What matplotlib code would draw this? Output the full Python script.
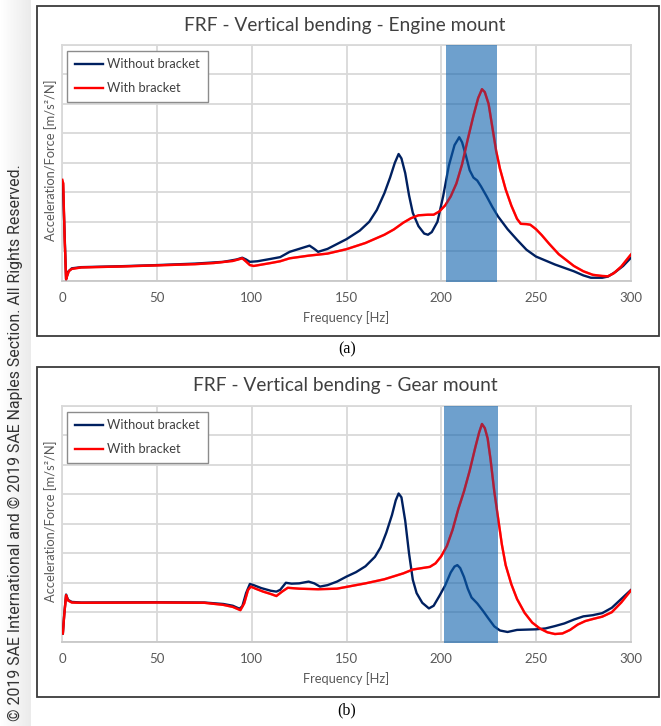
import matplotlib

matplotlib.use("Agg")
import matplotlib.pyplot as plt
import numpy as np
from matplotlib.patches import Rectangle

# Engine mount (panel a)
engine_freq_without = [0.3, 1, 2, 3, 5, 10, 30, 50, 70, 85, 92, 95, 97, 99, 103, 110, 115, 120,
                       126, 130.5, 133, 135, 140, 150, 157, 162, 166, 170, 173, 175.5, 177.5, 179,
                       181, 183, 185, 188, 191, 193, 195, 198, 201, 204, 207, 209.5, 211, 213, 215,
                       217, 219, 221, 224, 227, 230, 235, 240, 245, 250, 260, 270, 275, 279, 285,
                       288, 292, 296, 300]
engine_without = [3.3, 2.0, 0.05, 0.3, 0.42, 0.46, 0.49, 0.53, 0.58, 0.64, 0.72, 0.78, 0.72, 0.64,
                  0.66, 0.74, 0.80, 0.98, 1.1, 1.19, 1.08, 0.98, 1.08, 1.41, 1.7, 2.0, 2.4, 2.97,
                  3.5, 4.0, 4.30, 4.15, 3.65, 2.9, 2.3, 1.85, 1.6, 1.56, 1.65, 2.0, 2.86, 3.9, 4.6,
                  4.87, 4.7, 4.25, 3.75, 3.5, 3.4, 3.2, 2.86, 2.5, 2.18, 1.75, 1.39, 1.05, 0.82,
                  0.55, 0.32, 0.18, 0.1, 0.1, 0.14, 0.3, 0.5, 0.77]

engine_freq_with = [0, 0.5, 1.2, 2, 2.5, 3.5, 5, 10, 30, 50, 70, 80, 90, 95, 97, 99, 101, 110, 115,
                    120, 130, 140, 150, 160, 170, 175, 180, 184, 188, 193, 196, 199, 202, 205, 208,
                    211, 214, 217, 219.5, 221.5, 223, 225, 227, 229, 231, 234, 237, 240, 242, 245,
                    247, 250, 253, 257, 262, 270, 275, 280, 285, 288, 291, 295, 300]
engine_with = [3.42, 3.3, 1.5, 0.05, 0.15, 0.33, 0.40, 0.45, 0.48, 0.52, 0.56, 0.60, 0.67, 0.76,
               0.65, 0.53, 0.50, 0.60, 0.66, 0.76, 0.85, 0.92, 1.07, 1.28, 1.56, 1.74, 1.97, 2.12,
               2.22, 2.24, 2.24, 2.35, 2.55, 2.86, 3.3, 3.95, 4.8, 5.6, 6.2, 6.5, 6.4, 6.0, 5.2,
               4.4, 3.8, 3.1, 2.55, 2.1, 1.93, 1.92, 1.90, 1.75, 1.55, 1.25, 0.9, 0.5, 0.32, 0.2,
               0.16, 0.15, 0.25, 0.48, 0.88]

# Gear mount (panel b)
gear_freq_without = [0.3, 1, 2, 3, 5, 10, 50, 75, 85, 90, 93.5, 95, 97, 99, 101, 105, 110, 113, 115,
                     118, 121, 125, 130, 133, 136, 140, 145, 150, 155, 160, 165, 168, 171, 174, 176,
                     177.5, 179, 181, 183, 185, 187, 190, 193.5, 196, 199, 202, 205, 207, 208.5,
                     210, 212, 214, 216, 219, 222, 225, 228, 231, 235, 240, 250, 255, 260, 265,
                     270, 275, 280, 285, 290, 295, 300]
gear_without = [0.28, 0.9, 1.6, 1.42, 1.35, 1.33, 1.34, 1.33, 1.28, 1.22, 1.12, 1.2, 1.65, 1.96,
                1.92, 1.82, 1.73, 1.70, 1.76, 2.0, 1.97, 1.98, 2.04, 1.98, 1.87, 1.92, 2.04, 2.21,
                2.36, 2.56, 2.88, 3.2, 3.7, 4.3, 4.8, 5.03, 4.9, 4.1, 3.0, 2.1, 1.65, 1.32, 1.13,
                1.22, 1.55, 1.9, 2.35, 2.55, 2.60, 2.5, 2.2, 1.8, 1.5, 1.3, 1.05, 0.78, 0.52, 0.38,
                0.33, 0.40, 0.42, 0.45, 0.53, 0.62, 0.75, 0.86, 0.90, 0.97, 1.15, 1.45, 1.75]

gear_freq_with = [0.3, 1, 2, 3, 5, 10, 50, 75, 85, 90, 94, 96, 98, 99.5, 102, 106, 110, 113, 116,
                  119, 125, 135, 145, 150, 160, 170, 180, 185, 190, 194, 197, 200, 203, 206, 209,
                  212, 215, 218, 220, 221.5, 223, 224.5, 226, 228, 230, 232, 234, 237, 240, 244,
                  248, 252, 256, 260, 264, 268, 272, 276, 280, 285, 290, 295, 300]
gear_with = [0.28, 0.9, 1.58, 1.40, 1.33, 1.32, 1.33, 1.32, 1.25, 1.18, 1.07, 1.3, 1.75, 1.87, 1.8,
             1.70, 1.62, 1.55, 1.70, 1.83, 1.80, 1.78, 1.80, 1.86, 1.98, 2.12, 2.32, 2.45, 2.5,
             2.54, 2.66, 2.9, 3.25, 3.8, 4.5, 5.1, 5.8, 6.6, 7.1, 7.39, 7.25, 6.9, 6.2, 5.1, 4.2,
             3.3, 2.6, 1.95, 1.45, 0.98, 0.65, 0.45, 0.32, 0.26, 0.28, 0.40, 0.58, 0.70, 0.77,
             0.85, 1.0, 1.33, 1.73]

titles = ["FRF - Vertical bending - Engine mount", "FRF - Vertical bending - Gear mount"]
captions = ["(a)", "(b)"]
bands = [(202.5, 229.5), (201.5, 230.2)]
x_ticks = [0, 50, 100, 150, 200, 250, 300]

NAVY = "#002060"
RED = "#ff0000"
GRID = "#d9d9d9"
TEXT = "#595959"
FONT = "Lato"

W, H = 661, 726
fig = plt.figure(figsize=(W / 100, H / 100), dpi=100)


def fx(px):
    return px / W


def fy(py):
    return 1 - py / H


def draw_panel(box_top, box_bottom, ax_top, ax_bottom, title, caption, band,
               freq_without, without, freq_with, with_):
    """Draw one framed Excel-style FRF panel."""
    fig.patches.append(Rectangle((fx(36.5), fy(box_bottom)), fx(659) - fx(36.5),
                                 fy(box_top) - fy(box_bottom), transform=fig.transFigure,
                                 fill=False, edgecolor="#3a3a3a", linewidth=1.3, zorder=0))
    ax = fig.add_axes([fx(62.3), fy(ax_bottom), fx(630.7) - fx(62.3), fy(ax_top) - fy(ax_bottom)])
    ax.plot(freq_without, without, color=NAVY, lw=1.7, label="Without bracket",
            solid_joinstyle="round", zorder=3)
    ax.plot(freq_with, with_, color=RED, lw=1.7, label="With bracket",
            solid_joinstyle="round", zorder=4)
    ax.axvspan(band[0], band[1], ymin=-0.005, ymax=1, color="#0d61ac", alpha=0.6,
               lw=0, zorder=5, clip_on=False)
    # red trace keeps some of its colour through the shaded band
    ax.plot(freq_with, with_, color=RED, lw=1.7, alpha=0.45, solid_joinstyle="round", zorder=6)
    ax.set_xlim(0, 300)
    ax.set_ylim(0, 8)
    ax.set_xticks(x_ticks)
    ax.set_yticks(np.arange(0, 9, 1))
    ax.set_yticklabels([])
    ax.tick_params(axis="both", length=0, pad=8, labelsize=9.5, labelcolor=TEXT)
    for lab in ax.get_xticklabels():
        lab.set_fontfamily(FONT)
    ax.grid(True, color=GRID, lw=1.3, zorder=1)
    ax.set_axisbelow(True)
    for spine in ax.spines.values():
        spine.set_color(GRID)
        spine.set_linewidth(1.3)
    ax.spines["bottom"].set_color("#c8c8c8")
    ax.set_xlabel("Frequency [Hz]", fontsize=9.3, color=TEXT, family=FONT, labelpad=5)
    ax.set_ylabel("Acceleration/Force [m/s²/N]", fontsize=9.3, color=TEXT, family=FONT)
    ax.yaxis.set_label_coords(-0.009, 0.51)
    fig.text(fx(345), fy(box_top + 19), title, ha="center", va="center", fontsize=13.8,
             color="#404040", family=FONT)
    fig.text(fx(347), fy(box_bottom + 13), caption, ha="center", va="center", fontsize=11.5,
             color="black", family="Liberation Serif")
    leg = ax.legend(loc="upper left", bbox_to_anchor=(0.0088, 0.976), borderaxespad=0,
                    fancybox=False, edgecolor="#8c8c8c", framealpha=1, handlelength=2.2,
                    handletextpad=0.3, borderpad=0.6, labelspacing=0.9,
                    prop={"family": FONT, "size": 9.3})
    leg.get_frame().set_linewidth(1.0)
    leg.set_zorder(10)
    for t in leg.get_texts():
        t.set_color("#404040")


draw_panel(6, 336, 45, 280.7, titles[0], captions[0], bands[0],
           engine_freq_without, engine_without, engine_freq_with, engine_with)
draw_panel(366.7, 697, 406, 641.7, titles[1], captions[1], bands[1],
           gear_freq_without, gear_without, gear_freq_with, gear_with)

# faint shading strip at the left edge
grad_ax = fig.add_axes([0, 0, fx(31), 1], zorder=-1)
grad_ax.imshow(np.linspace(1.0, 0.92, 64)[None, :], cmap="gray", vmin=0, vmax=1,
               aspect="auto", extent=[0, 1, 0, 1])
grad_ax.axis("off")

fig.text(fx(15), fy(443), "© 2019 SAE International and © 2019 SAE Naples Section. All Rights Reserved.",
         rotation=90, ha="center", va="center", fontsize=11.4, color="#333333", family="Roboto")

fig.savefig("out.png", dpi=100)
